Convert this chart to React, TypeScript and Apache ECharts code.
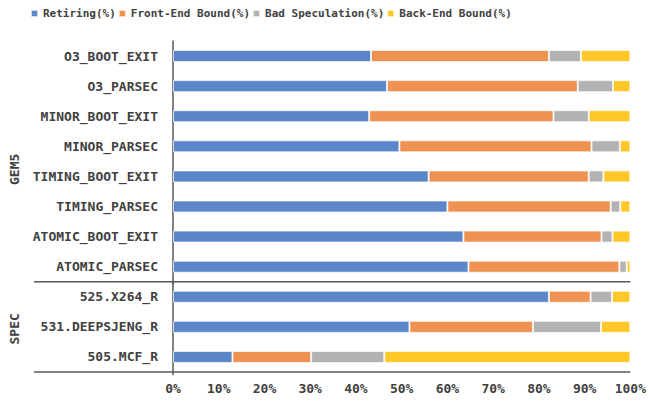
import React, { useEffect, useRef } from "react";
import * as echarts from "echarts";

const categories = [
  "O3_BOOT_EXIT",
  "O3_PARSEC",
  "MINOR_BOOT_EXIT",
  "MINOR_PARSEC",
  "TIMING_BOOT_EXIT",
  "TIMING_PARSEC",
  "ATOMIC_BOOT_EXIT",
  "ATOMIC_PARSEC",
  "525.X264_R",
  "531.DEEPSJENG_R",
  "505.MCF_R",
];
const retiring = [43.3, 46.8, 42.9, 49.5, 55.9, 60.0, 63.5, 64.6, 82.2, 51.7, 13.0];
const frontEnd = [38.9, 41.7, 40.3, 42.0, 35.0, 35.7, 30.2, 33.0, 9.1, 27.0, 17.2];
const badSpec = [7.0, 7.7, 7.7, 6.2, 3.2, 2.1, 2.4, 1.6, 4.7, 14.9, 16.0];
const backEnd = [10.8, 3.8, 9.1, 2.3, 5.9, 2.2, 3.9, 0.8, 4.0, 6.4, 53.8];
const seriesNames = ["Retiring(%)", "Front-End Bound(%)", "Bad Speculation(%)", "Back-End Bound(%)"];
const groupNames = ["GEM5", "SPEC"];
const groupFirst = [0, 8];
const groupLast = [7, 10];

const COLORS = ["#5B87CA", "#EF9150", "#B2B2B2", "#FFC828"];
const FONT = "'DejaVu Sans Mono', 'Liberation Mono', monospace";
const TEXT = "#404040";
const LINE = "#595959";
const GROUP_LABEL_SHIFT = [8, 2];

export default function App() {
  const ref = useRef<HTMLDivElement>(null);
  useEffect(() => {
    if (!ref.current) return;
    const chart = echarts.init(ref.current, undefined, { renderer: "svg" });
    const values = [retiring, frontEnd, badSpec, backEnd];
    chart.setOption({
      animation: false,
      backgroundColor: "#fff",
      color: COLORS,
      legend: {
        left: 30,
        top: 8,
        padding: 0,
        icon: "rect",
        itemWidth: 7,
        itemHeight: 7,
        itemGap: 2,
        textStyle: { fontFamily: FONT, fontSize: 11, fontWeight: "bold", color: TEXT },
        data: seriesNames,
      },
      grid: { left: 173, right: 16, top: 41, bottom: 31, containLabel: false },
      xAxis: {
        type: "value",
        min: 0,
        max: 100,
        interval: 10,
        axisLine: { show: false },
        axisTick: { show: false },
        splitLine: { show: false },
        axisLabel: {
          formatter: "{value}%",
          margin: 10,
          fontFamily: FONT,
          fontSize: 13,
          fontWeight: "bold",
          color: TEXT,
        },
      },
      yAxis: {
        type: "category",
        inverse: true,
        data: categories,
        axisLine: { show: true, lineStyle: { color: LINE, width: 1.5 } },
        axisTick: { show: false },
        axisLabel: {
          margin: 15,
          fontFamily: FONT,
          fontSize: 13,
          fontWeight: "bold",
          color: TEXT,
        },
      },
      series: seriesNames.map((name, i) => ({
        name,
        type: "bar",
        stack: "total",
        barCategoryGap: "60%",
        data: values[i],
        itemStyle: { borderColor: "rgba(255,255,255,0.7)", borderWidth: 1 },
      })),
    });

    const p0 = chart.convertToPixel({ yAxisIndex: 0 }, categories[0]) as number;
    const p1 = chart.convertToPixel({ yAxisIndex: 0 }, categories[1]) as number;
    const band = p1 - p0;
    const xRight = chart.convertToPixel({ xAxisIndex: 0 }, 100) as number;
    const xLeft = chart.convertToPixel({ xAxisIndex: 0 }, 0) as number;
    const graphics: any[] = [];
    groupNames.forEach((g, gi) => {
      const top = (chart.convertToPixel({ yAxisIndex: 0 }, categories[groupFirst[gi]]) as number) - band / 2;
      const bottom = (chart.convertToPixel({ yAxisIndex: 0 }, categories[groupLast[gi]]) as number) + band / 2;
      graphics.push({
        type: "line",
        shape: { x1: 34, y1: bottom, x2: xRight, y2: bottom },
        style: { stroke: LINE, lineWidth: 1.5 },
      });
      graphics.push({
        type: "line",
        shape: { x1: xLeft, y1: bottom, x2: xLeft, y2: bottom + 3 },
        style: { stroke: LINE, lineWidth: 1.5 },
      });
      graphics.push({
        type: "text",
        x: 14,
        y: (top + bottom) / 2 + GROUP_LABEL_SHIFT[gi],
        rotation: Math.PI / 2,
        style: {
          text: g,
          fontFamily: FONT,
          fontSize: 13,
          fontWeight: "bold",
          fill: TEXT,
          align: "center",
          verticalAlign: "middle",
        },
      });
    });
    chart.setOption({ graphic: graphics });
    return () => chart.dispose();
  }, []);
  return (
    <div
      ref={ref}
      style={{ position: "fixed", left: 0, top: 0, width: 649, height: 403 }}
    />
  );
}
